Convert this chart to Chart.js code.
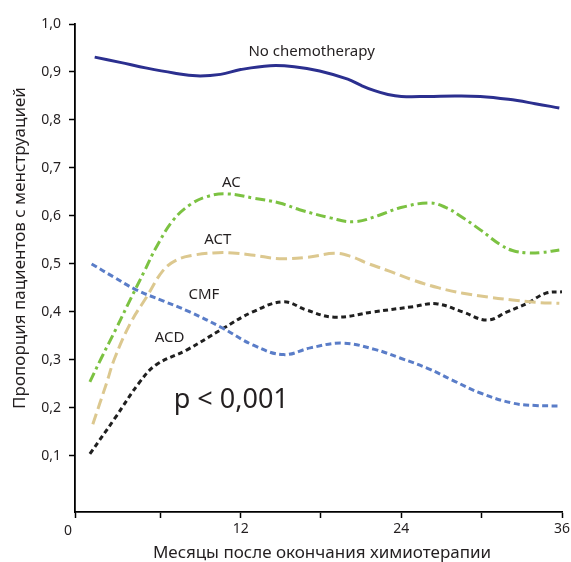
<!DOCTYPE html>
<html lang="ru">
<head>
  <meta charset="UTF-8">
  <title>Менструации после химиотерапии</title>
  <script src="https://cdn.jsdelivr.net/npm/chart.js"></script>
  <style>
    html, body { margin: 0; padding: 0; background: #fff; }
    #wrap { width: 571px; height: 562px; }
  </style>
</head>
<body>
  <div id="wrap"><canvas id="myChart" width="571" height="562"></canvas></div>

  <script>
    // Données (mois, proportion)
    const noChemoX = [1.1, 3, 5, 7, 8.7, 10.5, 12, 14.2, 16, 17.9, 20, 21, 22, 23, 24, 26, 28, 29.9, 32, 34, 35.8];
    const noChemoY = [0.931, 0.920, 0.908, 0.898, 0.892, 0.895, 0.905, 0.913, 0.911, 0.902, 0.885, 0.872, 0.861, 0.853, 0.849, 0.849, 0.850, 0.849, 0.843, 0.834, 0.825];

    const acX = [0.74, 1.6, 2.7, 3.73, 4.85, 5.72, 6.96, 8.2, 9.45, 10.95, 13, 14.9, 16.4, 18.7, 20.5, 22.4, 23.9, 26.1, 27.3, 28.4, 29.9, 31.4, 32.3, 33.4, 34.5, 35.8];
    const acY = [0.254, 0.304, 0.365, 0.424, 0.487, 0.536, 0.591, 0.623, 0.640, 0.646, 0.637, 0.627, 0.613, 0.596, 0.588, 0.602, 0.617, 0.627, 0.618, 0.600, 0.571, 0.540, 0.528, 0.523, 0.524, 0.529];

    const actX = [0.96, 1.98, 2.6, 3.8, 5.0, 6.2, 7.2, 8.45, 9.95, 11.4, 13, 14.9, 17, 19.0, 20.2, 21.4, 23, 24.9, 26.8, 28.6, 30.5, 32.3, 34, 35.8];
    const actY = [0.166, 0.251, 0.304, 0.378, 0.432, 0.486, 0.508, 0.518, 0.523, 0.523, 0.518, 0.511, 0.514, 0.522, 0.516, 0.502, 0.486, 0.466, 0.450, 0.439, 0.431, 0.425, 0.420, 0.418];

    const cmfX = [0.87, 2.5, 4.2, 6.2, 8.2, 10.6, 13, 15.2, 17.2, 19.6, 22, 23.9, 26, 27.8, 29.9, 32.3, 34, 35.8];
    const cmfY = [0.500, 0.473, 0.446, 0.423, 0.400, 0.367, 0.330, 0.311, 0.325, 0.335, 0.322, 0.304, 0.282, 0.258, 0.231, 0.210, 0.205, 0.204];

    const acdX = [0.74, 2.6, 4.47, 5.7, 8.0, 10.6, 12.9, 15.2, 16.9, 19.0, 21.9, 24.9, 26.6, 28.6, 30.4, 31.9, 33.4, 34.8, 36.0];
    const acdY = [0.104, 0.178, 0.254, 0.290, 0.321, 0.364, 0.400, 0.421, 0.404, 0.389, 0.400, 0.411, 0.417, 0.400, 0.383, 0.400, 0.418, 0.439, 0.442];

    // Graduations
    const yTickValues = [0.1, 0.2, 0.3, 0.4, 0.5, 0.6, 0.7, 0.8, 0.9, 1.0];
    const yTickLabels = ['0,1', '0,2', '0,3', '0,4', '0,5', '0,6', '0,7', '0,8', '0,9', '1,0'];
    const xTickValues = [-0.37, 6, 12, 18, 24, 30, 36];
    const xTickLabels = ['', '', '12', '', '24', '', '36'];
    const originLabel = '0';

    // Étiquettes sur le graphe (mois, proportion, texte)
    const seriesLabels = [
      { x: 17.3, y: 0.943, text: 'No chemotherapy' },
      { x: 11.3, y: 0.669, text: 'AC' },
      { x: 10.3, y: 0.550, text: 'ACT' },
      { x: 9.26, y: 0.436, text: 'CMF' },
      { x: 6.7, y: 0.346, text: 'ACD' }
    ];
    const pText = { x: 11.3, y: 0.216, text: 'p < 0,001' };

    const xTitle = 'Месяцы после окончания химиотерапии';
    const yTitle = 'Пропорция пациентов с менструацией';

    const FONT = "'Noto Sans', sans-serif";
    const TXT = '#231f20';

    function pts(xs, ys) {
      return xs.map((x, i) => ({ x: x, y: ys[i] }));
    }

    function serie(xs, ys, color, dash) {
      return {
        data: pts(xs, ys),
        borderColor: color,
        backgroundColor: color,
        borderWidth: 3,
        borderDash: dash,
        borderCapStyle: 'butt',
        pointRadius: 0,
        showLine: true,
        fill: false,
        tension: 0.4
      };
    }

    // Plugin : textes dans la zone du graphe + titres des axes
    const textPlugin = {
      id: 'texts',
      afterDraw(chart) {
        const ctx = chart.ctx;
        const xs = chart.scales.x, ys = chart.scales.y;
        ctx.save();
        ctx.fillStyle = TXT;
        ctx.textAlign = 'center';
        ctx.textBaseline = 'middle';

        ctx.font = '15px ' + FONT;
        seriesLabels.forEach(l => {
          ctx.fillText(l.text, xs.getPixelForValue(l.x), ys.getPixelForValue(l.y));
        });

        ctx.font = '27px ' + FONT;
        ctx.fillText(pText.text, xs.getPixelForValue(pText.x), ys.getPixelForValue(pText.y));

        // "0" à l'origine
        ctx.font = '14px ' + FONT;
        ctx.fillText(originLabel, xs.left - 7, 531);

        // titres des axes
        ctx.font = '17px ' + FONT;
        ctx.fillText(xTitle, 322, 553);
        ctx.save();
        ctx.translate(20, 248);
        ctx.rotate(-Math.PI / 2);
        ctx.fillText(yTitle, 0, 0);
        ctx.restore();

        ctx.restore();
      }
    };

    const ctx = document.getElementById('myChart').getContext('2d');
    new Chart(ctx, {
      type: 'scatter',
      data: {
        datasets: [
          serie(noChemoX, noChemoY, '#2b2f8f', []),
          serie(acX, acY, '#7cc242', [10, 4, 3, 4]),
          serie(actX, actY, '#dcc88f', [11, 5]),
          serie(cmfX, cmfY, '#5a7dc8', [6, 3.5]),
          serie(acdX, acdY, '#1f1f1f', [5, 3.5])
        ]
      },
      options: {
        responsive: false,
        animation: false,
        layout: { padding: { top: 24, right: 9, left: 0, bottom: 0 } },
        plugins: {
          legend: { display: false },
          tooltip: { enabled: false }
        },
        scales: {
          x: {
            type: 'linear',
            min: -0.37,
            max: 36,
            afterFit: s => { s.height = 50; s.paddingLeft = 0; s.paddingRight = 0; },
            afterBuildTicks: s => { s.ticks = xTickValues.map(v => ({ value: v })); },
            ticks: {
              callback: (v, i) => xTickLabels[i],
              color: TXT,
              font: { family: FONT, size: 14 },
              padding: 3,
              maxRotation: 0,
              autoSkip: false
            },
            grid: { drawOnChartArea: false, drawTicks: true, tickLength: 6, tickColor: '#000', tickWidth: 1.5 },
            border: { display: true, color: '#000', width: 1.8 }
          },
          y: {
            type: 'linear',
            min: -0.017,
            max: 1.0,
            afterFit: s => { s.width = 75; s.paddingTop = 0; s.paddingBottom = 0; },
            afterBuildTicks: s => { s.ticks = yTickValues.map(v => ({ value: v })); },
            ticks: {
              callback: (v, i) => yTickLabels[i],
              color: TXT,
              font: { family: FONT, size: 14 },
              padding: 8,
              autoSkip: false
            },
            grid: { drawOnChartArea: false, drawTicks: true, tickLength: 6, tickColor: '#000', tickWidth: 1.5 },
            border: { display: true, color: '#000', width: 1.8 }
          }
        }
      },
      plugins: [textPlugin]
    });
  </script>
</body>
</html>
